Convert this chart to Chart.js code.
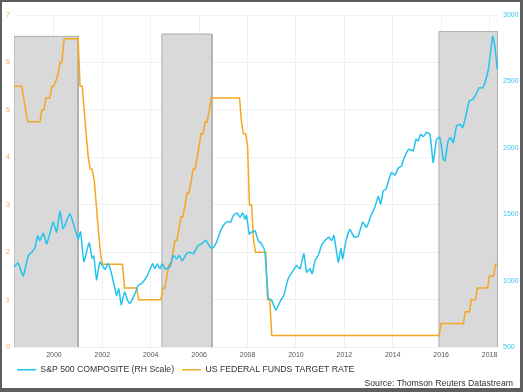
<!DOCTYPE html>
<html>
<head>
<meta charset="utf-8">
<script src="https://cdn.jsdelivr.net/npm/chart.js@4.4.1/dist/chart.umd.min.js"></script>
<style>
    body { margin: 0; background: #5e5e5e; width: 523px; height: 392px; overflow: hidden; }
    #frame { position: absolute; left: 2px; top: 2px; width: 518px; height: 386px; background: #fff; }
    #source { position: absolute; right: 7px; top: 376px; font: 8.7px 'Liberation Sans', Arial, sans-serif; color: #333; }
</style>
</head>
<body>
<div id="frame">
    <canvas id="chart"></canvas>
    <div id="source">Source: Thomson Reuters Datastream</div>
</div>
<script>
// x values are decimal years
const fedX = [1998.35, 1998.67, 1998.75, 1998.83, 1998.92, 1999.42, 1999.5, 1999.58, 1999.67, 1999.83, 1999.92, 2000.0,
    2000.17, 2000.25, 2000.33, 2000.42, 2001.0, 2001.08, 2001.17, 2001.25, 2001.33, 2001.42, 2001.5, 2001.58, 2001.67,
    2001.75, 2001.83, 2001.92, 2002.0, 2002.83, 2002.92, 2003.42, 2003.5, 2004.42, 2004.5, 2004.58, 2004.67, 2004.75,
    2004.83, 2004.92, 2005.0, 2005.08, 2005.17, 2005.25, 2005.33, 2005.42, 2005.5, 2005.58, 2005.67, 2005.75, 2005.83,
    2005.92, 2006.0, 2006.08, 2006.17, 2006.25, 2006.33, 2006.42, 2006.5, 2007.67, 2007.75, 2007.83, 2007.92, 2008.0,
    2008.08, 2008.17, 2008.25, 2008.33, 2008.75, 2008.83, 2008.92, 2009.0, 2015.92, 2016.0, 2016.92, 2017.0, 2017.17,
    2017.25, 2017.42, 2017.5, 2017.92, 2018.0, 2018.17, 2018.25, 2018.33];
const fedRate = [5.5, 5.5, 5.25, 5.0, 4.75, 4.75, 5.0, 5.0, 5.25, 5.25, 5.5, 5.5,
    5.75, 6.0, 6.0, 6.5, 6.5, 5.5, 5.5, 5.0, 4.5, 4.0, 3.75, 3.75, 3.5,
    3.0, 2.5, 2.0, 1.75, 1.75, 1.25, 1.25, 1.0, 1.0, 1.25, 1.25, 1.5, 1.75,
    1.75, 2.0, 2.25, 2.25, 2.5, 2.75, 2.75, 3.0, 3.25, 3.25, 3.5, 3.75, 3.75,
    4.0, 4.25, 4.5, 4.5, 4.75, 4.75, 5.0, 5.25, 5.25, 4.75, 4.5, 4.5, 4.25,
    3.0, 3.0, 2.25, 2.0, 2.0, 1.0, 1.0, 0.25, 0.25, 0.5, 0.5, 0.75, 0.75,
    1.0, 1.0, 1.25, 1.25, 1.5, 1.5, 1.75, 1.75];

const spxX = [1998.35, 1998.52, 1998.73, 1998.94, 1999.08, 1999.21, 1999.33, 1999.42, 1999.56, 1999.70, 1999.97,
    2000.11, 2000.25, 2000.38, 2000.66, 2001.0, 2001.10, 2001.24, 2001.45, 2001.58, 2001.65, 2001.76, 2001.90,
    2002.11, 2002.24, 2002.38, 2002.59, 2002.68, 2002.78, 2002.92, 2003.05, 2003.14, 2003.35, 2003.48, 2003.62,
    2003.83, 2004.08, 2004.17, 2004.27, 2004.38, 2004.48, 2004.59, 2004.79, 2004.93, 2005.07, 2005.18, 2005.30,
    2005.48, 2005.62, 2005.76, 2005.96, 2006.10, 2006.28, 2006.45, 2006.56, 2006.72, 2006.86, 2007.0, 2007.16,
    2007.30, 2007.41, 2007.57, 2007.69, 2007.80, 2007.89, 2007.96, 2008.07, 2008.17, 2008.31, 2008.44, 2008.58,
    2008.72, 2008.86, 2009.0, 2009.17, 2009.37, 2009.50, 2009.68, 2009.89, 2010.03, 2010.17, 2010.33, 2010.44,
    2010.58, 2010.67, 2010.79, 2010.92, 2011.06, 2011.20, 2011.36, 2011.48, 2011.57, 2011.75, 2011.86, 2011.93,
    2012.07, 2012.23, 2012.41, 2012.57, 2012.76, 2012.92, 2013.10, 2013.26, 2013.40, 2013.50, 2013.61, 2013.72,
    2013.81, 2013.95, 2014.09, 2014.23, 2014.37, 2014.43, 2014.57, 2014.68, 2014.85, 2014.96, 2015.05, 2015.15,
    2015.26, 2015.40, 2015.54, 2015.67, 2015.81, 2015.95, 2016.09, 2016.16, 2016.29, 2016.39, 2016.50, 2016.64,
    2016.78, 2016.89, 2017.02, 2017.16, 2017.30, 2017.44, 2017.57, 2017.71, 2017.81, 2017.95, 2018.04, 2018.13,
    2018.22, 2018.32];
const spxValue = [1104, 1134, 1037, 1191, 1216, 1246, 1340, 1303, 1358, 1278, 1441,
    1366, 1523, 1391, 1503, 1316, 1368, 1146, 1286, 1171, 1186, 1009, 1141,
    1086, 1129, 1054, 891, 940, 820, 915, 850, 829, 904, 966, 979,
    1029, 1129, 1091, 1129, 1091, 1129, 1091, 1104, 1191, 1166, 1191, 1150,
    1204, 1216, 1204, 1266, 1278, 1303, 1254, 1246, 1291, 1366, 1416, 1446,
    1441, 1491, 1510, 1478, 1510, 1466, 1491, 1353, 1366, 1378, 1303, 1278,
    1216, 867, 854, 779, 854, 891, 1016, 1079, 1116, 1091, 1204, 1066,
    1091, 1054, 1154, 1191, 1266, 1303, 1328, 1303, 1341, 1141, 1241, 1166,
    1303, 1386, 1328, 1336, 1441, 1403, 1491, 1553, 1636, 1578, 1678, 1690,
    1741, 1815, 1795, 1849, 1865, 1903, 1965, 1990, 1978, 2065, 2053, 2103,
    2085, 2116, 2103, 1890, 2065, 2078, 1915, 1903, 2053, 2078, 2040, 2165,
    2178, 2153, 2240, 2352, 2365, 2402, 2452, 2452, 2490, 2590, 2715, 2840,
    2765, 2590];

// shaded periods (left-axis units for the box height)
const shadeStart = [1998.35, 2004.46, 2015.91];
const shadeEnd = [2001.0, 2006.53, 2018.35];
const shadeTop = [6.55, 6.6, 6.65];

const yearTicks = [2000, 2002, 2004, 2006, 2008, 2010, 2012, 2014, 2016, 2018];

const fontFamily = "'Liberation Sans', Arial, sans-serif";

const toPoints = (xs, ys) => xs.map((x, i) => ({ x: x, y: ys[i] }));

const shadeSets = shadeStart.map((s, i) => ({
    label: 'shade' + i,
    data: [{ x: s, y: 0 }, { x: s, y: shadeTop[i] }, { x: shadeEnd[i], y: shadeTop[i] }, { x: shadeEnd[i], y: 0 }],
    yAxisID: 'y',
    fill: 'origin',
    backgroundColor: '#d9d9d9',
    borderColor: '#ababab',
    borderWidth: 1,
    pointRadius: 0,
    tension: 0
}));

// move the legend a little, the legend box otherwise starts at the canvas edge
const legendNudge = {
    id: 'legendNudge',
    afterLayout(chart) {
        chart.legend.left = 7;
        chart.legend.top -= 2;
    }
};

const ctx = document.getElementById('chart').getContext('2d');
new Chart(ctx, {
    type: 'line',
    data: {
        datasets: [{
            label: 'S&P 500 COMPOSITE (RH Scale)',
            data: toPoints(spxX, spxValue),
            yAxisID: 'y1',
            borderColor: '#22c3ee',
            backgroundColor: '#22c3ee',
            borderWidth: 1.5,
            pointRadius: 0,
            tension: 0.15
        }, {
            label: 'US FEDERAL FUNDS TARGET RATE',
            data: toPoints(fedX, fedRate),
            yAxisID: 'y',
            borderColor: '#f5a623',
            backgroundColor: '#f5a623',
            borderWidth: 1.5,
            pointRadius: 0,
            tension: 0
        }, ...shadeSets]
    },
    options: {
        responsive: true,
        maintainAspectRatio: false,
        animation: false,
        layout: { padding: { top: 13, left: 0, right: 0, bottom: 2 } },
        plugins: {
            tooltip: { enabled: false },
            legend: {
                position: 'bottom',
                align: 'start',
                labels: {
                    filter: item => item.datasetIndex < 2,
                    usePointStyle: true,
                    pointStyle: 'line',
                    pointStyleWidth: 19,
                    padding: 8,
                    color: '#333',
                    font: { family: fontFamily, size: 8.7 }
                }
            }
        },
        scales: {
            x: {
                type: 'linear',
                min: 1998.35,
                max: 2018.35,
                afterBuildTicks: axis => { axis.ticks = yearTicks.map(v => ({ value: v })); },
                afterFit: axis => { axis.height = 12; },
                ticks: {
                    autoSkip: false,
                    maxRotation: 0,
                    padding: 4,
                    color: '#555',
                    font: { family: fontFamily, size: 7 },
                    callback: v => String(v)
                },
                grid: { color: '#f0f0f0', drawTicks: false },
                border: { display: false }
            },
            y: {
                position: 'left',
                min: 0,
                max: 7,
                afterFit: axis => { axis.width = 12; },
                ticks: {
                    stepSize: 1,
                    padding: 4,
                    color: '#f2ac4a',
                    font: { family: fontFamily, size: 7 }
                },
                grid: { color: '#f0f0f0', drawTicks: false },
                border: { display: false }
            },
            y1: {
                position: 'right',
                min: 500,
                max: 3000,
                afterFit: axis => { axis.width = 22; },
                ticks: {
                    stepSize: 500,
                    padding: 5,
                    color: '#3cc4ee',
                    font: { family: fontFamily, size: 7 },
                    callback: v => String(v)
                },
                grid: { display: false, drawTicks: false },
                border: { display: false }
            }
        }
    },
    plugins: [legendNudge]
});
</script>
</body>
</html>
